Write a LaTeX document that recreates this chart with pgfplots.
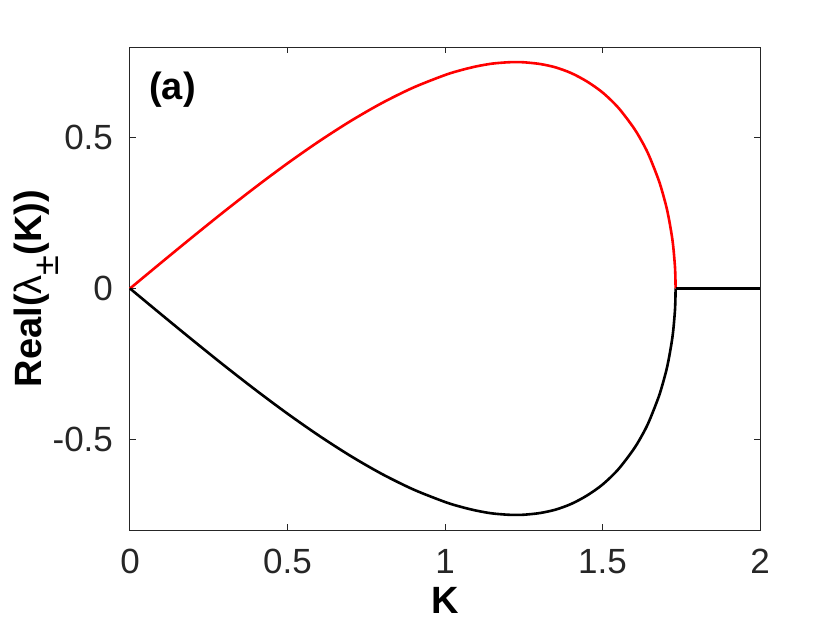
\documentclass[border=0pt]{standalone}
\usepackage{pgfplots}
\pgfplotsset{compat=1.18}
\usepackage{fontspec}
\setmainfont{Liberation Sans}
\definecolor{axgray}{RGB}{38,38,38}

\begin{document}
\begin{tikzpicture}
\begin{axis}[
  name=ax,
  width=315pt, height=241.5pt, scale only axis,
  xmin=0, xmax=2, ymin=-0.8, ymax=0.8,
  xtick={0,0.5,1,1.5,2}, ytick={-0.5,0,0.5},
  xticklabels={0,0.5,1,1.5,2}, yticklabels={-0.5,0,0.5},
  tick align=inside, major tick length=3pt,
  axis line style={axgray, line width=0.5pt},
  every tick/.style={axgray, line width=0.5pt},
  tick label style={font=\fontsize{17.5}{20}\selectfont, text=axgray},
  xticklabel style={yshift=-6pt},
  yticklabel style={xshift=-5pt},
  xlabel={\textbf{K}}, ylabel={\textbf{Real(}λ\raisebox{-0.45em}{\fontsize{18}{18}\selectfont ±}\textbf{(K))}},
  label style={font=\fontsize{19}{22}\selectfont},
  xlabel style={yshift=0pt},
  ylabel style={yshift=-10pt},
  clip=false,
]
\addplot[red, line width=1.3pt, smooth] coordinates {
 (0,0) (0.1,0.0865) (0.2,0.1720) (0.3,0.2559) (0.4,0.3370) (0.5,0.4146)
 (0.6,0.4874) (0.7,0.5545) (0.8,0.6145) (0.9,0.6659) (1.0,0.7071)
 (1.05,0.7231) (1.1,0.7359) (1.15,0.7450) (1.2,0.7494) (1.225,0.7500) (1.25,0.7494)
 (1.3,0.7440) (1.35,0.7328) (1.4,0.7139) (1.45,0.6862) (1.5,0.6495) (1.55,0.5991)
 (1.6,0.5307) (1.63,0.4778) (1.65,0.4346) (1.68,0.3540) (1.70,0.2819)
 (1.71,0.2355) (1.72,0.1754) (1.725,0.1347) (1.73,0.0729) (1.7315,0.0328) (1.73205,0)
};
\addplot[black, line width=1.3pt, smooth] coordinates {
 (0,0) (0.1,-0.0865) (0.2,-0.1720) (0.3,-0.2559) (0.4,-0.3370) (0.5,-0.4146)
 (0.6,-0.4874) (0.7,-0.5545) (0.8,-0.6145) (0.9,-0.6659) (1.0,-0.7071)
 (1.05,-0.7231) (1.1,-0.7359) (1.15,-0.7450) (1.2,-0.7494) (1.225,-0.7500) (1.25,-0.7494)
 (1.3,-0.7440) (1.35,-0.7328) (1.4,-0.7139) (1.45,-0.6862) (1.5,-0.6495) (1.55,-0.5991)
 (1.6,-0.5307) (1.63,-0.4778) (1.65,-0.4346) (1.68,-0.3540) (1.70,-0.2819)
 (1.71,-0.2355) (1.72,-0.1754) (1.725,-0.1347) (1.73,-0.0729) (1.7315,-0.0328) (1.73205,0)
};
\addplot[black, line width=1.3pt] coordinates {(1.73205,0) (2,0)};
\node[anchor=center, font=\fontsize{19}{22}\selectfont\bfseries] at (axis cs:0.135,0.66) {(a)};
\end{axis}
\path[use as bounding box] ([xshift=-65pt,yshift=-50pt]ax.south west) rectangle ([xshift=40pt,yshift=23.5pt]ax.north east);
\end{tikzpicture}
\end{document}
